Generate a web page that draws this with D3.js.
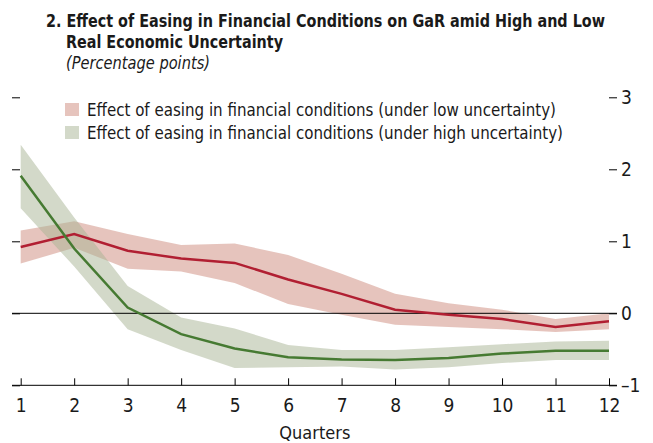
<!DOCTYPE html>
<html>
<head>
<meta charset="utf-8">
<script src="https://cdn.jsdelivr.net/npm/d3@7"></script>
<style>
  body { margin: 0; background: #fff; }
  svg text { font-family: "DejaVu Sans Condensed", "Liberation Sans Narrow", "Roboto", sans-serif; fill: #1a1a1a; }
</style>
</head>
<body>
<svg id="chart" width="653" height="443"></svg>
<script>
// Quarters after the easing shock
var quarters = [1, 2, 3, 4, 5, 6, 7, 8, 9, 10, 11, 12];

// Low uncertainty: median and band
var lowMid   = [0.92, 1.10, 0.87, 0.76, 0.70, 0.47, 0.27, 0.05, -0.02, -0.08, -0.19, -0.11];
var lowUpper = [1.15, 1.28, 1.10, 0.95, 0.97, 0.81, 0.55, 0.27, 0.14, 0.05, -0.08, 0.00];
var lowLower = [0.69, 0.91, 0.62, 0.58, 0.42, 0.13, -0.02, -0.16, -0.19, -0.22, -0.26, -0.22];

// High uncertainty: median and band
var highMid   = [1.91, 0.90, 0.08, -0.29, -0.49, -0.61, -0.64, -0.65, -0.62, -0.56, -0.52, -0.52];
var highUpper = [2.34, 1.33, 0.38, -0.06, -0.21, -0.44, -0.51, -0.51, -0.47, -0.43, -0.39, -0.38];
var highLower = [1.46, 0.65, -0.22, -0.51, -0.76, -0.75, -0.74, -0.78, -0.75, -0.69, -0.65, -0.65];

var yTicks = [-1, 0, 1, 2, 3];
var legendLabels = [
  "Effect of easing in financial conditions (under low uncertainty)",
  "Effect of easing in financial conditions (under high uncertainty)"
];

var svg = d3.select("#chart");

var x = d3.scaleLinear().domain([1, 12]).range([20.7, 609]);
var y = d3.scaleLinear().domain([-1, 3]).range([385.3, 97.3]);

// text squeezed to the reference widths
function fitText(px, py, width, txt) {
  return svg.append("text").attr("x", px).attr("y", py)
      .attr("textLength", width).attr("lengthAdjust", "spacingAndGlyphs")
      .text(txt);
}

// title
fitText(46, 27, 559, "2. Effect of Easing in Financial Conditions on GaR amid High and Low")
    .style("font-weight", "bold").style("font-size", "17px");
fitText(66, 48, 217, "Real Economic Uncertainty")
    .style("font-weight", "bold").style("font-size", "17px");
fitText(66, 69, 144, "(Percentage points)")
    .style("font-style", "italic").style("font-size", "17px");

// bands
var area = function(upper, lower) {
  return d3.area()
      .x(function(d, i) { return x(quarters[i]); })
      .y0(function(d, i) { return y(lower[i]); })
      .y1(function(d, i) { return y(upper[i]); })(quarters);
};
svg.append("path").attr("d", area(lowUpper, lowLower))
    .attr("fill", "#cd897b").attr("fill-opacity", 0.5);
svg.append("path").attr("d", area(highUpper, highLower))
    .attr("fill", "#a7b393").attr("fill-opacity", 0.5);

// zero line
svg.append("line")
    .attr("x1", 12).attr("x2", 617)
    .attr("y1", y(0)).attr("y2", y(0))
    .attr("stroke", "#000").attr("stroke-width", 1);

// median lines
var line = d3.line()
    .x(function(d, i) { return x(quarters[i]); })
    .y(function(d) { return d; });
svg.append("path").attr("d", line(lowMid.map(y)))
    .attr("fill", "none").attr("stroke", "#b11f32").attr("stroke-width", 2.5);
svg.append("path").attr("d", line(highMid.map(y)))
    .attr("fill", "none").attr("stroke", "#467a32").attr("stroke-width", 2.5);

// x axis
svg.append("line")
    .attr("x1", 12).attr("x2", 617)
    .attr("y1", y(-1)).attr("y2", y(-1))
    .attr("stroke", "#000").attr("stroke-width", 1);
var xAxis = svg.append("g")
    .attr("transform", "translate(0," + y(-1) + ")")
    .call(d3.axisBottom(x).tickValues(quarters).tickSize(-7).tickPadding(13)
        .tickFormat(d3.format("d")));
xAxis.select(".domain").remove();
xAxis.selectAll("text").style("font-size", "19px").attr("fill", "#1a1a1a");

svg.append("text").attr("x", (x(1) + x(12)) / 2).attr("y", 439)
    .attr("text-anchor", "middle").style("font-size", "18px")
    .text("Quarters");

// left ticks, no labels
var leftAxis = svg.append("g")
    .attr("transform", "translate(20,0)")
    .call(d3.axisLeft(y).tickValues(yTicks).tickSize(8).tickFormat(""));
leftAxis.select(".domain").remove();

// right axis with labels
var rightAxis = svg.append("g")
    .attr("transform", "translate(609,0)")
    .call(d3.axisRight(y).tickValues(yTicks).tickSize(8).tickPadding(4)
        .tickFormat(function(d) { return d < 0 ? "\u2013" + Math.abs(d) : d; }));
rightAxis.select(".domain").remove();
rightAxis.selectAll("text").style("font-size", "19px").attr("fill", "#1a1a1a");

// legend
var legendColors = ["#e6c4bd", "#d3d9c9"];
var legendWidths = [469, 476];
legendLabels.forEach(function(label, i) {
  var ly = 103 + i * 23;
  svg.append("rect").attr("x", 65).attr("y", ly)
      .attr("width", 14).attr("height", 13).attr("fill", legendColors[i]);
  fitText(87, ly + 13, legendWidths[i], label).style("font-size", "17px");
});
</script>
</body>
</html>
